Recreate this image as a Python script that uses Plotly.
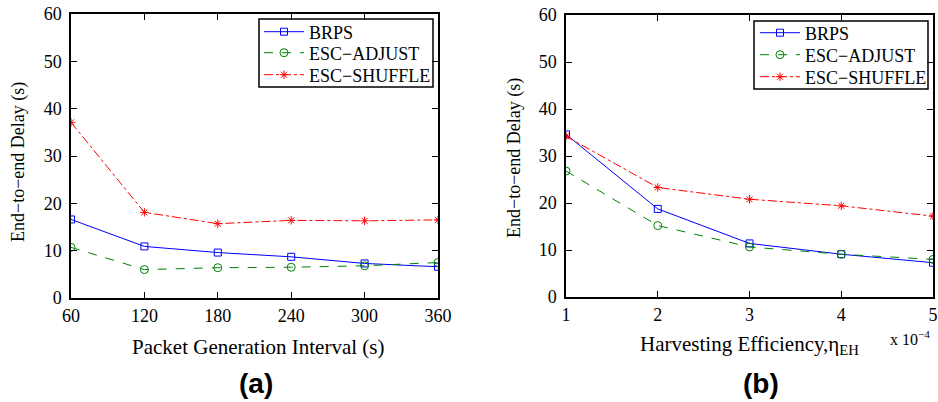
import plotly.graph_objects as go

# panel (a): delay vs packet generation interval
interval_s = [60, 120, 180, 240, 300, 360]
brps_a = [16.6, 10.9, 9.6, 8.7, 7.3, 6.6]
adjust_a = [10.7, 6.0, 6.4, 6.5, 6.8, 7.5]
shuffle_a = [37.1, 18.1, 15.7, 16.4, 16.3, 16.5]

# panel (b): delay vs harvesting efficiency (x 1e-4)
efficiency = [1, 2, 3, 4, 5]
brps_b = [34.6, 18.75, 11.4, 9.1, 7.3]
adjust_b = [26.8, 15.2, 10.65, 9.1, 8.0]
shuffle_b = [34.2, 23.3, 20.8, 19.4, 17.2]

series_names = ["BRPS", "ESC\u2212ADJUST", "ESC\u2212SHUFFLE"]
y_ticks = [0, 10, 20, 30, 40, 50, 60]

SERIF = "Liberation Serif, Times New Roman, serif"
SANS = "Liberation Sans, Arial, sans-serif"
BLUE = "#0000ff"
GREEN = "#008000"
RED = "#ff0000"

styles = [
    dict(color=BLUE, dash="solid", symbol="square-open", size=7),
    dict(color=GREEN, dash="dash", symbol="circle-open", size=8),
    dict(color=RED, dash="dashdot", symbol="asterisk-open", size=7),
]

W, H = 938, 402

fig = go.Figure()


def add_panel(x, ys, xaxis, yaxis, legends):
    # one legend per series so each row can be placed like the MATLAB box
    for name, y, st, lg in zip(series_names, ys, styles, legends):
        fig.add_trace(
            go.Scatter(
                x=x,
                y=y,
                name=name,
                mode="lines+markers",
                line=dict(color=st["color"], dash=st["dash"], width=1),
                marker=dict(
                    symbol=st["symbol"],
                    size=st["size"],
                    color=st["color"],
                    line=dict(color=st["color"], width=1),
                ),
                xaxis=xaxis,
                yaxis=yaxis,
                legend=lg,
            )
        )


add_panel(interval_s, [brps_a, adjust_a, shuffle_a], "x", "y", ["legend", "legend2", "legend3"])
add_panel(efficiency, [brps_b, adjust_b, shuffle_b], "x2", "y2", ["legend4", "legend5", "legend6"])

axis_common = dict(
    showgrid=False,
    zeroline=False,
    showline=True,
    linecolor="black",
    linewidth=1.5,
    mirror="ticks",
    ticks="inside",
    ticklen=6,
    tickwidth=1,
    tickcolor="black",
    automargin=False,
    tickfont=dict(family=SERIF, size=18, color="black"),
)
x_common = dict(axis_common, ticklabelstandoff=1)
y_common = dict(axis_common, ticklabelstandoff=4)


def legend_row(x, y):
    return dict(
        bgcolor="rgba(0,0,0,0)",
        borderwidth=0,
        font=dict(family=SERIF, size=18, color="black"),
        itemwidth=40,
        x=x / W,
        y=1 - y / H,
        xanchor="left",
        yanchor="middle",
    )


def text_note(text, x, y, size, family=SERIF, angle=0):
    return dict(
        text=text,
        xref="paper",
        yref="paper",
        x=x / W,
        y=1 - y / H,
        xanchor="center",
        yanchor="middle",
        textangle=angle,
        showarrow=False,
        font=dict(family=family, size=size, color="black"),
    )


def legend_box(x0, y0, x1, y1):
    return dict(
        type="rect",
        xref="paper",
        yref="paper",
        x0=x0 / W,
        x1=x1 / W,
        y0=1 - y1 / H,
        y1=1 - y0 / H,
        line=dict(color="black", width=1.5),
        fillcolor="white",
        layer="below",
    )


fig.update_layout(
    width=W,
    height=H,
    margin=dict(l=0, r=0, t=0, b=0),
    paper_bgcolor="white",
    plot_bgcolor="white",
    showlegend=True,
    xaxis=dict(x_common, domain=[71 / W, 438 / W], range=[60, 360], tickvals=interval_s),
    yaxis=dict(y_common, domain=[1 - 298 / H, 1 - 14 / H], range=[0, 60], tickvals=y_ticks),
    xaxis2=dict(x_common, anchor="y2", domain=[566 / W, 933 / W], range=[1, 5], tickvals=efficiency),
    yaxis2=dict(y_common, anchor="x2", domain=[1 - 297 / H, 1 - 15 / H], range=[0, 60], tickvals=y_ticks),
    legend=legend_row(259, 32),
    legend2=legend_row(259, 53),
    legend3=legend_row(259, 75),
    legend4=legend_row(755, 33),
    legend5=legend_row(755, 55),
    legend6=legend_row(755, 77),
    shapes=[legend_box(259, 19, 433, 87), legend_box(754, 21, 928, 89)],
    annotations=[
        text_note("End\u2212to\u2212end Delay (s)", 18, 162, 18, angle=-90),
        text_note("End\u2212to\u2212end Delay (s)", 514, 158, 18, angle=-90),
        text_note("Packet Generation Interval (s)", 258, 347, 21),
        text_note("Harvesting Efficiency,\u03b7<sub>EH</sub>", 749, 345, 21),
        text_note("x 10<sup>\u22124</sup>", 910, 338, 16),
        text_note("<b>(a)</b>", 256, 383, 28, family=SANS),
        text_note("<b>(b)</b>", 761, 383, 28, family=SANS),
    ],
)

fig.write_html(
    "out.html",
    config={"displayModeBar": False},
    post_script="document.body.style.margin = '0px';",
)
